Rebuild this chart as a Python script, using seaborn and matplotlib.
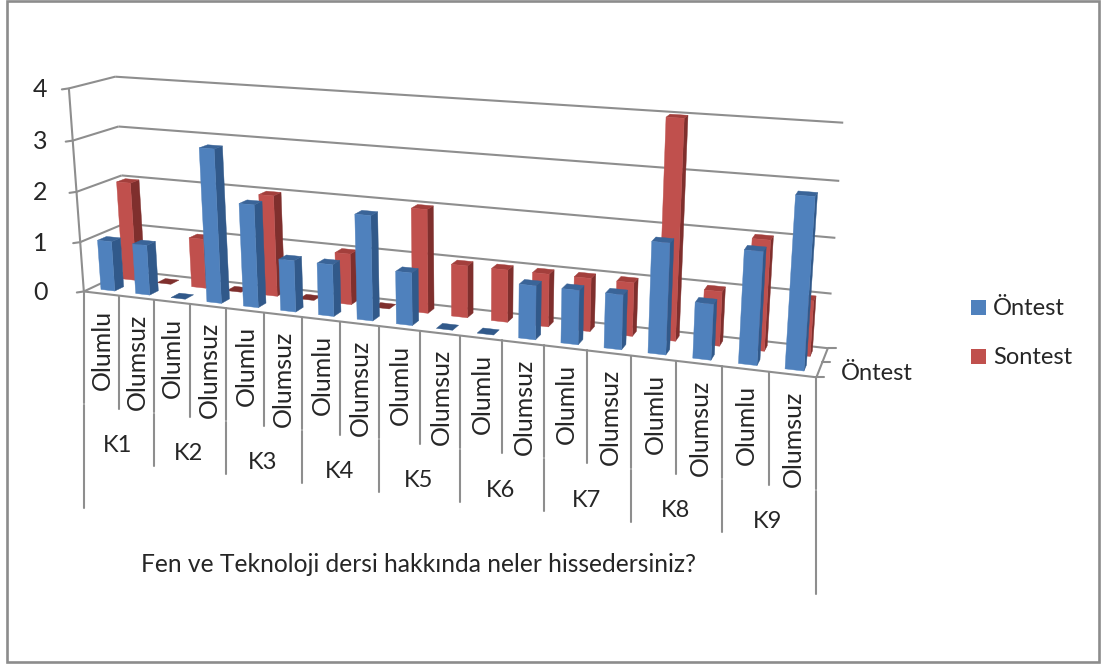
import numpy as np
import pandas as pd
import seaborn as sns
import matplotlib
matplotlib.use("Agg")
import matplotlib.pyplot as plt
from matplotlib.patches import Rectangle

# Survey counts per student and answer type
students = ["K1", "K2", "K3", "K4", "K5", "K6", "K7", "K8", "K9"]
answers = ["Olumlu", "Olumsuz"]
ontest = [1, 1, 0, 3, 2, 1, 1, 2, 1, 0, 0, 1, 1, 1, 2, 1, 2, 3]
sontest = [2, 0, 1, 0, 2, 0, 1, 0, 2, 1, 1, 1, 1, 1, 4, 1, 2, 1]
value_ticks = [0, 1, 2, 3, 4]
series_names = ["Öntest", "Sontest"]
axis_title = "Fen ve Teknoloji dersi hakkında neler hissedersiniz?"

sns.set_theme(style="white")
plt.rcParams["font.family"] = ["Lato", "DejaVu Sans"]

base = sns.color_palette(["#4F81BD", "#C0504D"])
shades = {
    "Öntest": {"front": base[0], "side": "#31598A", "top": "#3A6498"},
    "Sontest": {"front": base[1], "side": "#7F2F2D", "top": "#A33F3C"},
}
GRID = "#8E8E8E"
INK = "#262626"

# Long-form table: slot = position along the category axis, row = depth row
n_slots = len(ontest)
frame = pd.DataFrame({
    "slot": np.tile(np.arange(n_slots), 2),
    "row": np.repeat([0, 1], n_slots),
    "series": np.repeat(series_names, n_slots),
    "value": ontest + sontest,
})

# Perspective camera: (slot, depth, value) -> pixel, solved from the chart frame corners
frame_3d = [(0, 0, v) for v in value_ticks] + [(0, 1, v) for v in value_ticks] \
    + [(18, 1, v) for v in value_ticks] + [(18, 0, 0), (6, 0, 0), (9, 0, 0), (12, 0, 0)]
frame_px = [(84, 290), (80, 242), (76, 192), (72, 141), (70, 89),
            (128, 272), (125, 224), (122, 175), (118, 126), (115, 76),
            (827, 348), (832, 293), (836, 238), (839, 181), (843, 123),
            (817, 377), (302, 317), (419, 331), (544, 346)]


def solve_camera(world, image):
    rows, rhs = [], []
    for (x, y, z), (px, py) in zip(world, image):
        rows.append([x, y, z, 1, 0, 0, 0, 0, -px * x, -px * y, -px * z])
        rows.append([0, 0, 0, 0, x, y, z, 1, -py * x, -py * y, -py * z])
        rhs += [px, py]
    sol = np.linalg.lstsq(np.array(rows, float), np.array(rhs, float), rcond=None)[0]
    return np.append(sol, 1).reshape(3, 4)


CAMERA = solve_camera(frame_3d, frame_px)


def project(slot, depth, value):
    h = CAMERA @ np.array([slot, depth, value, 1.0])
    return h[0] / h[2], h[1] / h[2]


fig = plt.figure(figsize=(11.01, 6.64), dpi=100, facecolor="white")
ax = fig.add_axes([0, 0, 1, 1])
ax.set_xlim(0, 1101)
ax.set_ylim(664, 0)
ax.axis("off")

ax.add_patch(Rectangle((7, 1), 1092, 661, fill=False, ec="#8C8C8C", lw=1.9, zorder=1))

LW = 1.5


def line3d(a, b, lw=LW, z=2):
    (x0, y0), (x1, y1) = project(*a), project(*b)
    ax.plot([x0, x1], [y0, y1], color=GRID, lw=lw, zorder=z, solid_capstyle="butt")


# Walls and floor
for v in value_ticks:
    line3d((0, 0, v), (0, 1, v))
    line3d((0, 1, v), (n_slots, 1, v))
    x, y = project(0, 0, v)
    ax.plot([x - 7, x], [y + 1, y], color=GRID, lw=LW, zorder=2)
    ax.text(40, y + 1, str(v), ha="center", va="center", fontsize=18, color=INK)
line3d((0, 0, 0), (0, 0, value_ticks[-1]))
line3d((0, 0, 0), (n_slots, 0, 0))
line3d((n_slots, 0, 0), (n_slots, 1, 0))

# Depth axis ticks and its single visible label
for d in (0, 0.5, 1):
    x, y = project(n_slots, d, 0)
    ax.plot([x, x + 8], [y, y], color=GRID, lw=LW, zorder=2)
fx, fy = project(n_slots, 0, 0)
ax.text(fx + 24, fy - 4, series_names[0], ha="left", va="center", fontsize=17, color=INK)

# Bars, back row first, each made of right side, top and front faces
BAR_W, BAR_D = 0.4, 0.4
for row in sorted(frame["row"].unique(), reverse=True):
    subset = frame[frame["row"] == row].sort_values("slot")
    d0 = (row + 0.5 - BAR_D / 2) / 2
    d1 = d0 + BAR_D / 2
    for rec in subset.itertuples():
        u0 = rec.slot + 0.5 - BAR_W / 2
        u1 = u0 + BAR_W
        v = rec.value
        col = shades[rec.series]
        zo = 3 + (1 - row) * 100 + rec.slot * 0.1
        top = [project(u0, d0, v), project(u1, d0, v), project(u1, d1, v), project(u0, d1, v)]
        if v > 0:
            side = [project(u1, d0, 0), project(u1, d1, 0), project(u1, d1, v), project(u1, d0, v)]
            front = [project(u0, d0, 0), project(u1, d0, 0), project(u1, d0, v), project(u0, d0, v)]
            ax.fill(*zip(*side), color=col["side"], lw=0.3, zorder=zo)
            ax.fill(*zip(*top), color=col["top"], lw=0.3, zorder=zo)
            ax.fill(*zip(*front), color=col["front"], lw=0.3, zorder=zo)
        else:
            ax.fill(*zip(*top), color=col["side"], lw=0.3, zorder=zo)

# Multi-level category axis below the floor
LEVEL1, LEVEL2, LEVEL3 = 113, 166, 217
for slot in range(n_slots + 1):
    x, y = project(slot, 0, 0)
    if slot % 2:
        ax.plot([x, x], [y, y + LEVEL1], color=GRID, lw=LW, zorder=2)
    else:
        end = LEVEL3 if slot in (0, n_slots) else LEVEL2
        ax.plot([x, x], [y, y + LEVEL1 - 1], color=GRID, lw=LW, zorder=2)
        ax.plot([x, x], [y + LEVEL1 + 1, y + end], color=GRID, lw=LW, zorder=2)

for slot in range(n_slots):
    x0, y0 = project(slot, 0, 0)
    x1, y1 = project(slot + 1, 0, 0)
    ax.text((x0 + x1) / 2 + 1, (y0 + y1) / 2 + 16, answers[slot % 2], rotation=90,
            ha="center", va="top", fontsize=18, color=INK)

for i, name in enumerate(students):
    x, y = project(2 * i + 1, 0, 0)
    ax.text(x - 1, y + 150, name, ha="center", va="center", fontsize=17, color=INK)

ax.text(418.5, 564, axis_title, ha="center", va="center", fontsize=17.7, color=INK)

# Legend
for name, ky in zip(series_names, (307.5, 356)):
    ax.add_patch(Rectangle((971, ky - 7.5), 15, 15, fc=shades[name]["front"], ec="none", zorder=3))
    ax.text(993, ky + 1, name, ha="left", va="center", fontsize=17, color=INK)

fig.savefig("out.png", dpi=100)
